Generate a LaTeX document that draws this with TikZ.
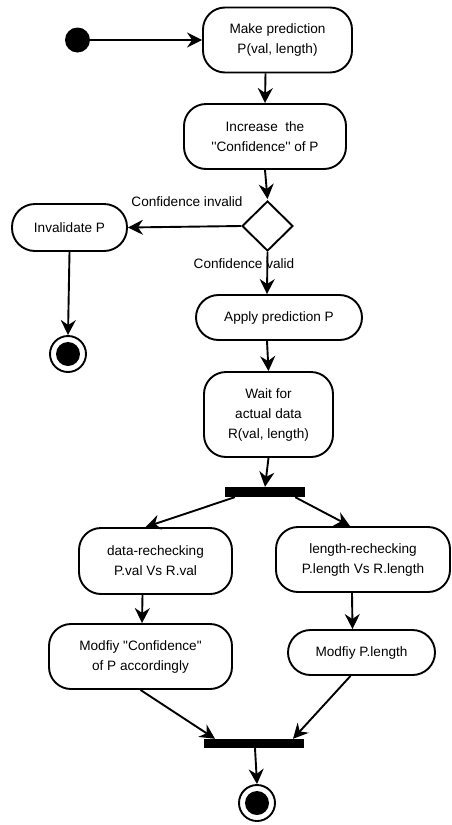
\documentclass[tikz,border=0pt]{standalone}
\usepackage{fontspec}
\setmainfont{Liberation Sans}[Ligatures=TeXOff]
\usetikzlibrary{arrows.meta,shapes.geometric,calc}
\begin{document}
\begin{tikzpicture}[x=1pt,y=-1pt,
  every node/.style={font=\fontsize{13.6}{20}\selectfont},
  box/.style={draw, line width=1.9pt, align=center, inner sep=0pt, rectangle},
  bar/.style={fill=black, inner sep=0pt, rectangle},
  arr/.style={line width=1.9pt, -{Stealth[length=15pt,width=15pt,inset=5pt]}},
  lbl/.style={inner sep=0pt},
  endnode/.style={circle, draw, line width=1.9pt, minimum size=36pt, inner sep=0pt,
    path picture={\fill (path picture bounding box.center) circle (12pt);}}
]
\useasboundingbox (0,0) rectangle (451,825);
% initial
\node[circle, fill=black, minimum size=25pt, inner sep=0pt] (start) at (77.5,40) {};
% boxes
\node[box, rounded corners=22pt, minimum width=149pt, minimum height=65pt] (make) at (277.5,40) {Make prediction\\P(val, length)};
\node[box, rounded corners=22pt, minimum width=162pt, minimum height=65pt] (incr) at (265,136.5) {Increase\ \ the\\''Confidence'' of P};
\node[diamond, draw, line width=1.9pt, minimum width=51pt, minimum height=50pt, inner sep=0pt] (dec) at (267.5,226) {};
\node[box, rounded corners=23pt, minimum width=115pt, minimum height=47pt] (inval) at (69.5,227.5) {Invalidate P};
\node[endnode] (end1) at (68,354) {};
\node[box, rounded corners=22.5pt, minimum width=166pt, minimum height=45pt] (apply) at (279,317.5) {Apply prediction P};
\node[box, rounded corners=22pt, minimum width=129pt, minimum height=85pt] (wait) at (268.5,414.5) {Wait for\\actual data\\R(val, length)};
\node[bar, minimum width=80pt, minimum height=10pt] (fork) at (265,492) {};
\node[box, rounded corners=22pt, minimum width=153pt, minimum height=66pt] (dchk) at (155.5,561) {data-rechecking\\P.val Vs R.val};
\node[box, rounded corners=22pt, minimum width=174pt, minimum height=65pt] (lchk) at (363,559.5) {length-rechecking\\P.length Vs R.length};
\node[box, rounded corners=22pt, minimum width=183pt, minimum height=65pt] (mconf) at (140.5,656.5) {Modfiy "Confidence"\\of P accordingly};
\node[box, rounded corners=22.5pt, minimum width=147pt, minimum height=45pt] (mlen) at (361.5,652.5) {Modfiy P.length};
\node[bar, minimum width=100pt, minimum height=9pt] (join) at (254,743.5) {};
\node[endnode] (end2) at (257,803) {};
% labels
\node[lbl] (linv) at (187,202) {Confidence invalid};
\node[lbl] (lval) at (244,264) {Confidence valid};
% connectors
\draw[arr] (start) -- (make.west);
\draw[arr] ([xshift=-12pt]make.south) -- ([xshift=0pt]incr.north);
\draw[arr] (incr.south) -- ([yshift=1pt]dec.north);
\draw[arr] (dec.west) -- (inval.east);
\draw[arr] (inval.south) -- (end1.north);
\draw[arr] (dec.south) -- ([xshift=-12pt]apply.north);
\draw[arr] ([xshift=-12pt]apply.south) -- (wait.north);
\draw[arr] (wait.south) -- (fork.north);
\draw[arr] ([xshift=10pt]fork.south west) -- ([xshift=-10pt]dchk.north);
\draw[arr] ([xshift=-10pt]fork.south east) -- ([xshift=-13pt]lchk.north);
\draw[arr] ([xshift=-13pt]dchk.south) -- ([xshift=1.5pt]mconf.north);
\draw[arr] ([xshift=-11pt]lchk.south) -- ([xshift=-9pt]mlen.north);
\draw[arr] (mconf.south) -- ([xshift=-39pt]join.north);
\draw[arr] ([xshift=-11pt]mlen.south) -- ([xshift=39pt]join.north);
\draw[arr] ([xshift=1pt]join.south) -- (end2.north);
\end{tikzpicture}
\end{document}
